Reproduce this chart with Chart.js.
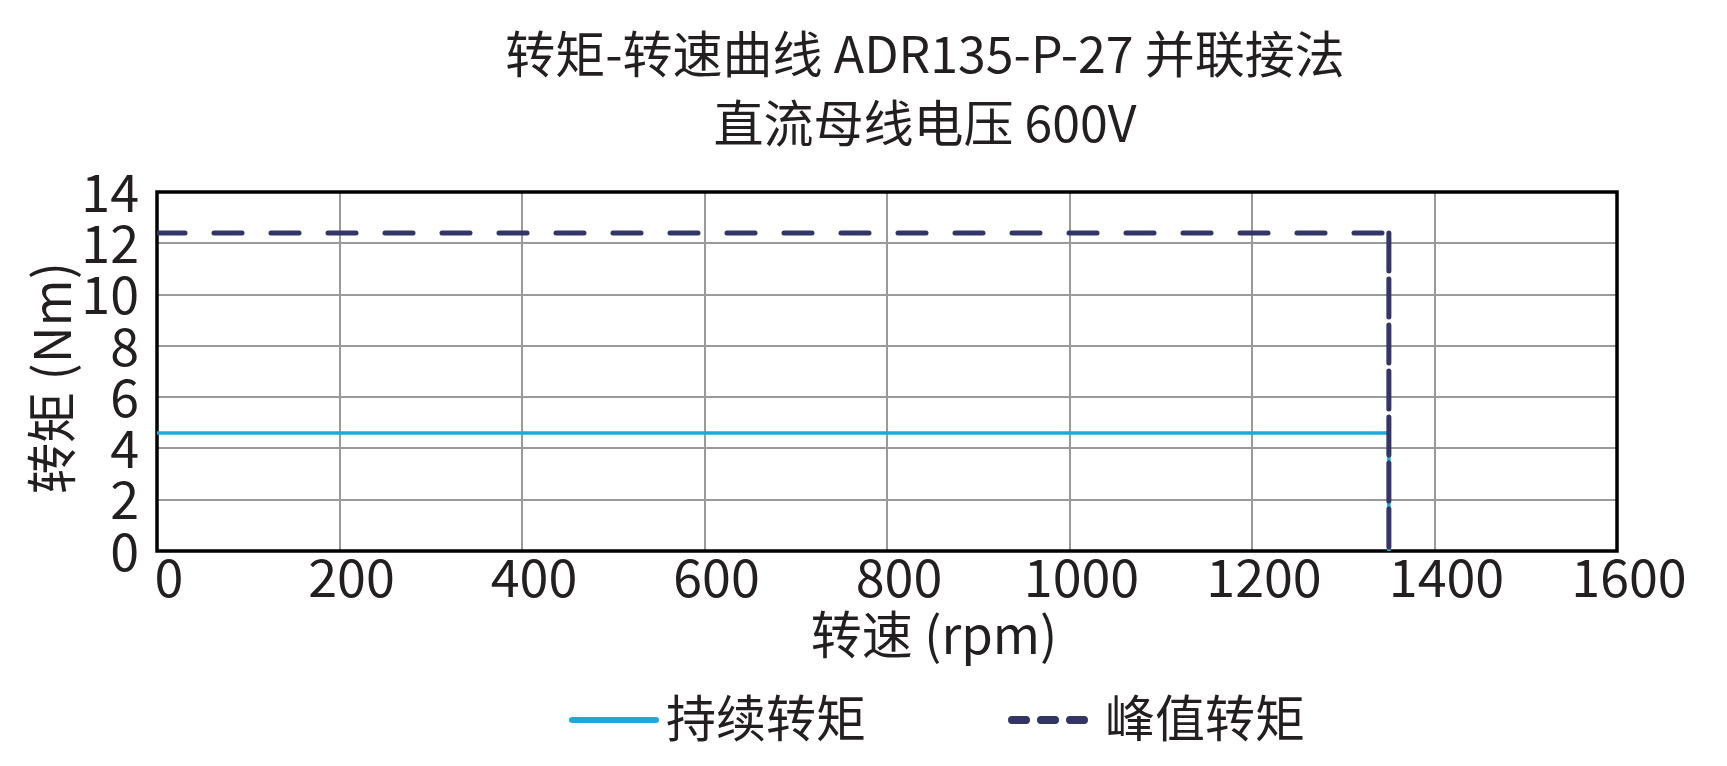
<!DOCTYPE html>
<html>
<head>
<meta charset="utf-8">
<script src="https://cdn.jsdelivr.net/npm/chart.js@4/dist/chart.umd.min.js"></script>
<style>
  html, body { margin: 0; padding: 0; background: #fff; }
  #wrap { width: 1727px; height: 766px; }
</style>
</head>
<body>
<div id="wrap"><canvas id="chart" width="1727" height="766"></canvas></div>
<script>
// ------------------------------
// DATA
// ------------------------------
const speedRpm   = [0, 1350, 1350]
const contTorque = [4.6, 4.6, 0]
const peakTorque = [12.4, 12.4, 0]

const xTicks = [0, 200, 400, 600, 800, 1000, 1200, 1400, 1600]
const yTicks = [0, 2, 4, 6, 8, 10, 12, 14]

const titleLines = ["转矩-转速曲线 ADR135-P-27 并联接法", "直流母线电压 600V"]
const xTitle = "转速 (rpm)"
const yTitle = "转矩 (Nm)"
const seriesNames = ["持续转矩", "峰值转矩"]

const FONT = "'Noto Sans CJK SC', 'Noto Sans', sans-serif"
const INK = "#231f20"
const CYAN = "#1fa8dc"
const NAVY = "#323566"

// ------------------------------
// TEXT + FRAME PLUGIN
// ------------------------------
const framePlugin = {
    id: "frame",
    beforeDatasetsDraw(chart){
        const {ctx, chartArea:a} = chart
        ctx.save()
        ctx.strokeStyle = "#000"
        ctx.lineWidth = 3.5
        ctx.strokeRect(a.left, a.top, a.right - a.left, a.bottom - a.top)
        ctx.restore()
    },
    afterDraw(chart){
        const ctx = chart.ctx
        ctx.save()
        ctx.fillStyle = INK
        ctx.textAlign = "center"
        ctx.textBaseline = "middle"

        ctx.font = `50px ${FONT}`
        ctx.fillText(titleLines[0], 925, 54)
        ctx.fillText(titleLines[1], 925, 123)

        ctx.font = `51px ${FONT}`
        ctx.fillText(xTitle, 934, 635)

        ctx.save()
        ctx.translate(52, 378)
        ctx.rotate(-Math.PI/2)
        ctx.fillText(yTitle, 0, 0)
        ctx.restore()

        // legend
        const ly = 720
        ctx.lineCap = "round"
        ctx.strokeStyle = CYAN
        ctx.lineWidth = 6
        ctx.beginPath()
        ctx.moveTo(572, ly)
        ctx.lineTo(656, ly)
        ctx.stroke()

        ctx.strokeStyle = NAVY
        ctx.lineWidth = 8
        ctx.setLineDash([14, 15])
        ctx.beginPath()
        ctx.moveTo(1012, ly)
        ctx.lineTo(1085, ly)
        ctx.stroke()
        ctx.setLineDash([])

        ctx.textAlign = "left"
        ctx.font = `50px ${FONT}`
        ctx.fillText(seriesNames[0], 666, ly - 2)
        ctx.fillText(seriesNames[1], 1105, ly - 2)
        ctx.restore()
    }
}

// ------------------------------
// CHART
// ------------------------------
const toPoints = ys => speedRpm.map((x, i) => ({x: x, y: ys[i]}))

new Chart(document.getElementById("chart").getContext("2d"), {
    type: "line",
    data: {
        datasets: [
            {
                label: seriesNames[0],
                data: toPoints(contTorque),
                borderColor: CYAN,
                borderWidth: 3.5,
                pointRadius: 0,
                tension: 0,
                order: 2
            },
            {
                label: seriesNames[1],
                data: toPoints(peakTorque),
                borderColor: NAVY,
                borderWidth: 5,
                borderCapStyle: "round",
                pointRadius: 0,
                tension: 0,
                order: 1,
                segment: {
                    borderDash: c => c.p0DataIndex === 0 ? [28, 29] : [22, 24]
                }
            }
        ]
    },
    options: {
        responsive: false,
        animation: false,
        devicePixelRatio: 1,
        layout: { padding: { left: 0, top: 192, right: 110, bottom: 0 } },
        plugins: {
            legend: { display: false },
            title: { display: false },
            tooltip: { enabled: false }
        },
        scales: {
            x: {
                type: "linear",
                min: 0,
                max: 1600,
                afterBuildTicks: s => { s.ticks = xTicks.map(v => ({value: v})) },
                afterFit: s => { s.height = 766 - 551 },
                grid: { color: "#9a9a9a", lineWidth: 2, drawTicks: false },
                border: { display: false },
                ticks: {
                    padding: -5,
                    labelOffset: 12,
                    color: INK,
                    font: { family: FONT, size: 52 },
                    maxRotation: 0,
                    autoSkip: false,
                    callback: v => String(v)
                }
            },
            y: {
                type: "linear",
                min: 0,
                max: 14,
                afterBuildTicks: s => { s.ticks = yTicks.map(v => ({value: v})) },
                afterFit: s => { s.width = 157 },
                grid: { color: "#9a9a9a", lineWidth: 2, drawTicks: false },
                border: { display: false },
                ticks: {
                    padding: 18,
                    color: INK,
                    font: { family: FONT, size: 52 },
                    autoSkip: false,
                    callback: v => String(v)
                }
            }
        }
    },
    plugins: [framePlugin]
})
</script>
</body>
</html>
